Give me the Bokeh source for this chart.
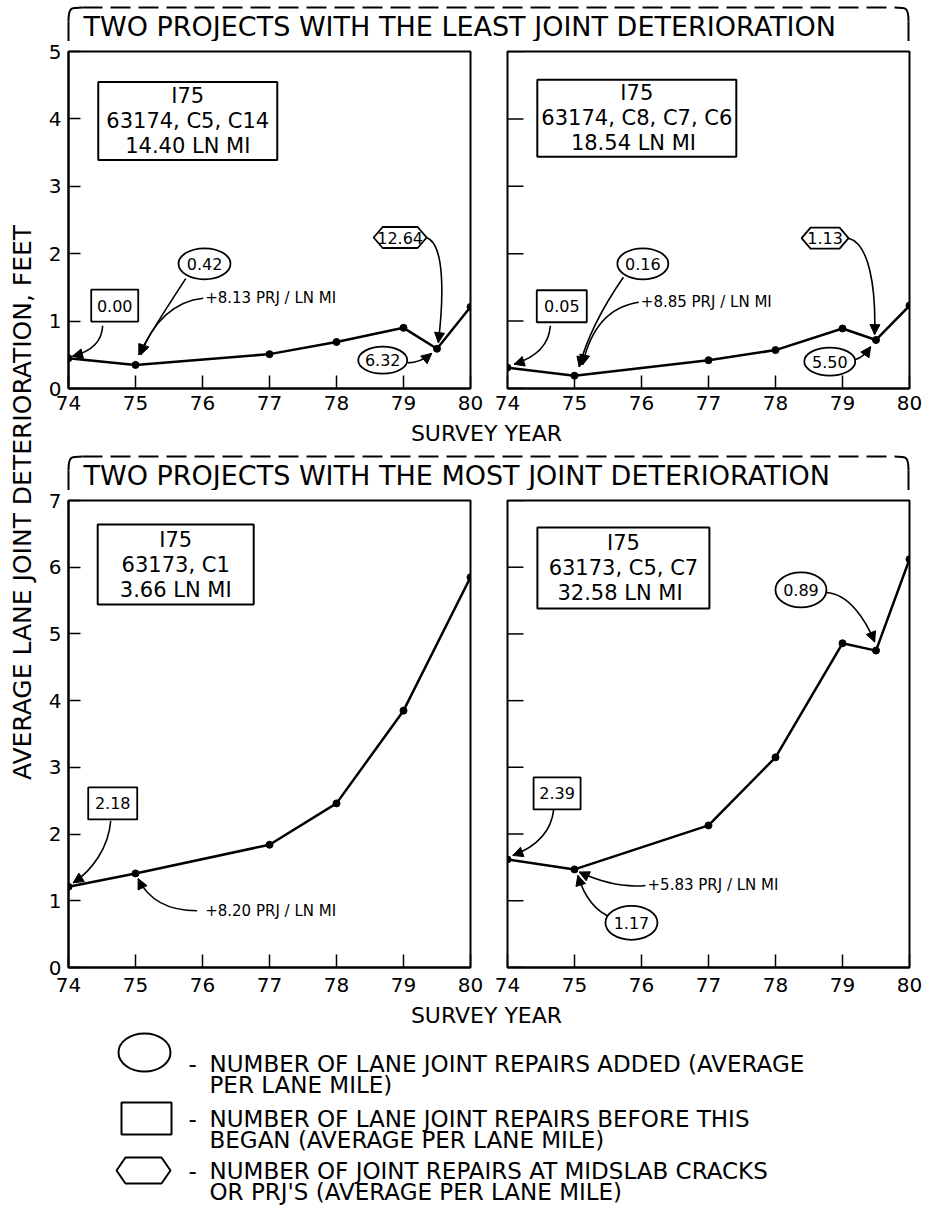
import math
from bokeh.plotting import figure
from bokeh.layouts import row, column
from bokeh.models import Range1d, FixedTicker, Arrow, NormalHead
from bokeh.core.properties import value
from bokeh.embed import file_html
from bokeh.resources import INLINE

FONT = "DejaVu Sans"

# ---------------- data ----------------
survey_years = [74, 75, 77, 78, 79, 79.5, 80]
survey_years_c1 = [74, 75, 77, 78, 79, 80]
least_63174_c5_c14 = [0.45, 0.35, 0.51, 0.69, 0.90, 0.59, 1.21]
least_63174_c8_c7_c6 = [0.31, 0.19, 0.42, 0.57, 0.89, 0.72, 1.23]
most_63173_c1 = [1.21, 1.41, 1.84, 2.46, 3.85, 5.85]
most_63173_c5_c7 = [1.62, 1.47, 2.13, 3.15, 4.86, 4.75, 6.12]

x_ticks = [74, 75, 76, 77, 78, 79, 80]
y_ticks_least = [0, 1, 2, 3, 4, 5]
y_ticks_most = [0, 1, 2, 3, 4, 5, 6, 7]

title_least = "TWO PROJECTS WITH THE LEAST JOINT DETERIORATION"
title_most = "TWO PROJECTS WITH THE MOST JOINT DETERIORATION"
y_title = "AVERAGE LANE JOINT DETERIORATION, FEET"
x_title = "SURVEY YEAR"

info_tl = ["I75", "63174, C5, C14", "14.40 LN MI"]
info_tr = ["I75", "63174, C8, C7, C6", "18.54  LN MI"]
info_bl = ["I75", "63173, C1", "3.66 LN MI"]
info_br = ["I75", "63173, C5, C7", "32.58  LN MI"]

legend_lines = [
    ("ellipse", ["NUMBER OF LANE JOINT REPAIRS ADDED (AVERAGE", "PER LANE MILE)"]),
    ("box", ["NUMBER OF LANE JOINT REPAIRS BEFORE THIS", "BEGAN (AVERAGE PER LANE MILE)"]),
    ("hex", ["NUMBER OF JOINT REPAIRS AT MIDSLAB CRACKS", "OR PRJ'S (AVERAGE PER LANE MILE)"]),
]

# annotation layout: shapes (kind, label, x, y, w_px, h_px), notes (text, x, y),
# arrows (x0, y0, cx0, cy0, cx1, cy1, x1, y1), info box (x, y, w_px, h_px)
ann_tl = dict(
    info=(75.78, 3.97, 179, 78),
    shapes=[("box", "0.00", 74.69, 1.23, 47, 32), ("ellipse", "0.42", 76.03, 1.85, 52, 31),
            ("hex", "12.64", 78.95, 2.24, 53, 21), ("ellipse", "6.32", 78.69, 0.42, 49, 27)],
    notes=[("+8.13 PRJ / LN MI", 76.04, 1.34)],
    arrows=[(74.51, 0.93, 74.50, 0.70, 74.35, 0.55, 74.06, 0.48),
            (75.75, 1.63, 75.50, 1.25, 75.20, 0.80, 75.05, 0.50),
            (76.01, 1.34, 75.60, 1.30, 75.25, 1.00, 75.08, 0.50),
            (79.34, 2.24, 79.62, 2.15, 79.60, 1.35, 79.52, 0.68),
            (79.06, 0.38, 79.20, 0.38, 79.30, 0.42, 79.42, 0.52)],
)
ann_tr = dict(
    info=(75.93, 4.01, 199, 77),
    shapes=[("box", "0.05", 74.81, 1.22, 50, 32), ("ellipse", "0.16", 76.02, 1.85, 51, 31),
            ("hex", "1.13", 78.74, 2.23, 47, 21), ("ellipse", "5.50", 78.81, 0.40, 51, 28)],
    notes=[("+8.85 PRJ / LN MI", 75.99, 1.28)],
    arrows=[(74.64, 0.93, 74.62, 0.65, 74.45, 0.47, 74.10, 0.36),
            (75.73, 1.65, 75.45, 1.25, 75.20, 0.80, 75.07, 0.32),
            (75.96, 1.28, 75.55, 1.22, 75.25, 0.95, 75.12, 0.35),
            (79.09, 2.23, 79.40, 2.15, 79.50, 1.50, 79.48, 0.80),
            (79.19, 0.43, 79.28, 0.45, 79.35, 0.52, 79.42, 0.62)],
)
ann_bl = dict(
    info=(75.60, 6.04, 156, 80),
    shapes=[("box", "2.18", 74.66, 2.46, 49, 32)],
    notes=[("+8.20 PRJ / LN MI", 76.04, 0.85)],
    arrows=[(74.63, 2.20, 74.60, 1.80, 74.35, 1.45, 74.07, 1.27),
            (75.92, 0.85, 75.50, 0.85, 75.20, 1.00, 75.04, 1.33)],
)
ann_br = dict(
    info=(75.73, 5.99, 172, 81),
    shapes=[("ellipse", "0.89", 78.38, 5.66, 51, 35), ("box", "2.39", 74.74, 2.61, 47, 32),
            ("ellipse", "1.17", 75.85, 0.67, 52, 34)],
    notes=[("+5.83 PRJ / LN MI", 76.09, 1.23)],
    arrows=[(78.76, 5.62, 79.10, 5.60, 79.35, 5.20, 79.48, 4.88),
            (74.69, 2.37, 74.65, 2.00, 74.40, 1.80, 74.08, 1.68),
            (76.06, 1.23, 75.70, 1.19, 75.35, 1.30, 75.07, 1.43),
            (75.55, 0.75, 75.30, 0.85, 75.15, 1.05, 75.05, 1.38)],
)

# ---------------- helpers ----------------
FRAME_W = 402
TOP_B = 10
DASH = "20 8"
TICK_FS = "20px"


def canvas(w, h, xr, yr):
    c = figure(width=w, height=h, x_range=Range1d(*xr), y_range=Range1d(*yr),
               x_axis_type=None, y_axis_type=None, toolbar_location=None,
               output_backend="svg", min_border=0)
    c.outline_line_color = None
    return c


def txt(p, x, y, s, size, align="center", angle=0.0):
    p.text(x=[x], y=[y], text=[s], text_font=value(FONT), text_font_size=size,
           text_align=align, text_baseline="middle", text_color="black", angle=angle)


def hex_pts(cx, cy, w, h, kx, ky, tip=9):
    dx, dy, t = w / 2 / kx, h / 2 / ky, tip / kx
    return ([cx - dx, cx - dx + t, cx + dx - t, cx + dx, cx + dx - t, cx - dx + t],
            [cy, cy + dy, cy + dy, cy, cy - dy, cy - dy])


def shape(p, kind, cx, cy, w, h, kx, ky, lw=1.8):
    if kind == "box":
        p.rect(x=[cx], y=[cy], width=[w], height=[h], width_units="screen",
               height_units="screen", fill_color="white", line_color="black", line_width=lw)
    elif kind == "ellipse":
        p.ellipse(x=[cx], y=[cy], width=[w], height=[h], width_units="screen",
                  height_units="screen", fill_color="white", line_color="black", line_width=lw)
    else:
        xs, ys = hex_pts(cx, cy, w, h, kx, ky)
        p.patch(xs, ys, fill_color="white", line_color="black", line_width=lw)


def style_axis(ax, ticks, tin):
    ax.ticker = FixedTicker(ticks=ticks)
    ax.major_tick_in = tin
    ax.major_tick_out = 0
    ax.minor_tick_line_color = None
    ax.major_tick_line_width = 1.5
    ax.major_tick_line_color = "black"
    ax.axis_line_width = 2
    ax.axis_line_color = "black"
    ax.major_label_text_font = FONT
    ax.major_label_text_font_size = TICK_FS
    ax.major_label_text_color = "black"


def panel(xs, ys, ymax, frame_h, yticks, left_b, right_b, labels, tick_in_y, ann, info,
          dash_x):
    p = figure(frame_width=FRAME_W, frame_height=frame_h, x_range=Range1d(74, 80),
               y_range=Range1d(0, ymax), min_border_left=left_b, min_border_right=right_b,
               min_border_top=TOP_B, min_border_bottom=36 if ymax == 7 else 31,
               toolbar_location=None, output_backend="svg",
               y_axis_type="linear" if labels else None)
    p.xgrid.visible = False
    p.ygrid.visible = False
    p.outline_line_color = "black"
    p.outline_line_width = 2
    p.outline_line_alpha = 1
    style_axis(p.xaxis, x_ticks, 13)
    p.xaxis.major_label_standoff = 10 if ymax == 7 else 7

    kx = FRAME_W / 6.0
    ky = frame_h / float(ymax)

    if labels:
        style_axis(p.yaxis, yticks, tick_in_y)
        p.yaxis.major_label_standoff = 7
    else:
        # inner tick marks only (shared scale with the left panel)
        n = len(yticks)
        p.segment(x0=[74] * n, y0=yticks, x1=[74 + tick_in_y / kx] * n, y1=yticks,
                  line_color="black", line_width=1.5)

    # dashed header side continuing above the frame
    p.add_layout(Arrow(end=None, x_start=dash_x, y_start=ymax, x_end=dash_x,
                       y_end=ymax + (TOP_B + 1) / ky, line_color="black", line_width=2,
                       line_dash="6 3"))

    # data line
    p.line(xs, ys, line_color="black", line_width=2.5)
    p.scatter(xs, ys, size=7, color="black")

    # info box
    ix, iy, iw, ih = ann["info"]
    shape(p, "box", ix, iy, iw, ih, kx, ky, lw=2)
    for k, s in enumerate(info):
        txt(p, ix, iy + (1 - k) * 25 / ky, s, "21px")

    # arrows
    for (x0, y0, cx0, cy0, cx1, cy1, x1, y1) in ann["arrows"]:
        p.bezier(x0=[x0], y0=[y0], x1=[x1], y1=[y1], cx0=[cx0], cy0=[cy0],
                 cx1=[cx1], cy1=[cy1], line_color="black", line_width=1.6)
        dxp, dyp = (x1 - cx1) * kx, (y1 - cy1) * ky
        nrm = math.hypot(dxp, dyp) or 1.0
        ux, uy = dxp / nrm, dyp / nrm
        p.add_layout(Arrow(end=NormalHead(size=10, fill_color="black", line_color="black",
                                          line_width=1),
                           x_start=x1 - ux * 4 / kx, y_start=y1 - uy * 4 / ky,
                           x_end=x1, y_end=y1, line_color="black", line_width=1.6))

    # labelled shapes
    for kind, label, cx, cy, w, h in ann["shapes"]:
        shape(p, kind, cx, cy, w, h, kx, ky)
        txt(p, cx, cy, label, "16px")
    for s, x, y in ann["notes"]:
        txt(p, x, y, s, "15px", align="left")
    return p


def dashed_header(c, top_y, bottom_y, title, title_y):
    kw = dict(line_color="black", line_width=2, line_dash=DASH)
    c.line([68, 68], [bottom_y, top_y + 14], **kw)
    c.bezier(x0=[68], y0=[top_y + 14], x1=[82], y1=[top_y], cx0=[68], cy0=[top_y],
             cx1=[70], cy1=[top_y], line_color="black", line_width=2)
    c.line([82, 894], [top_y, top_y], **kw)
    c.bezier(x0=[894], y0=[top_y], x1=[908], y1=[top_y + 14], cx0=[906], cy0=[top_y],
             cx1=[908], cy1=[top_y], line_color="black", line_width=2)
    c.line([908, 908], [top_y + 14, bottom_y], **kw)
    txt(c, 83, title_y, title, "27px", align="left")


# ---------------- build ----------------
# page x: label strip 0-40, left panels 40-486 (frame 68-470), right panels 486-926 (frame 507-909)
tl = panel(survey_years, least_63174_c5_c14, 5, 337, y_ticks_least, 28, 16, True, 12,
           ann_tl, info_tl, 74)
tr = panel(survey_years, least_63174_c8_c7_c6, 5, 337, y_ticks_least, 21, 17, False, 16,
           ann_tr, info_tr, 80)
bl = panel(survey_years_c1, most_63173_c1, 7, 467, y_ticks_most, 28, 16, True, 12,
           ann_bl, info_bl, 74)
br = panel(survey_years, most_63173_c5_c7, 7, 467, y_ticks_most, 21, 17, False, 16,
           ann_br, info_br, 80)

# page y: hdr1 0-41, top row 41-419 (frame 51-388), hdr2 419-490, bottom row 490-1003
hdr1 = canvas(886, 41, (40, 926), (41, 0))
dashed_header(hdr1, 7, 41, title_least, 25.5)

hdr2 = canvas(886, 71, (40, 926), (490, 419))
txt(hdr2, 486, 433, x_title, "22px")
dashed_header(hdr2, 456, 490, title_most, 474.5)

ylab = canvas(40, 1003, (0, 40), (0, 1003))
txt(ylab, 22, 1003 - 502, y_title, "25px", angle=math.pi / 2)

leg = canvas(926, 207, (0, 926), (1210, 1003))
txt(leg, 486, 1015, x_title, "22px")
leg_rows = [(1052, 1063, 1084, (144, 52, 38)), (1118, 1118, 1139, (146, 50, 32)),
            (1170, 1170, 1191, (143, 54, 26))]
for (kind, lines), (sy, y1, y2, (sx, sw, sh)) in zip(legend_lines, leg_rows):
    shape(leg, kind, sx, sy, sw, sh, 1.0, 1.0, lw=2)
    txt(leg, 188, y1, "-", "23px", align="left")
    txt(leg, 209, y1, lines[0], "23px", align="left")
    txt(leg, 209, y2, lines[1], "23px", align="left")

layout = column(
    row(ylab, column(hdr1, row(tl, tr), hdr2, row(bl, br))),
    leg,
)

open("out.html", "w").write(file_html(layout, INLINE))
